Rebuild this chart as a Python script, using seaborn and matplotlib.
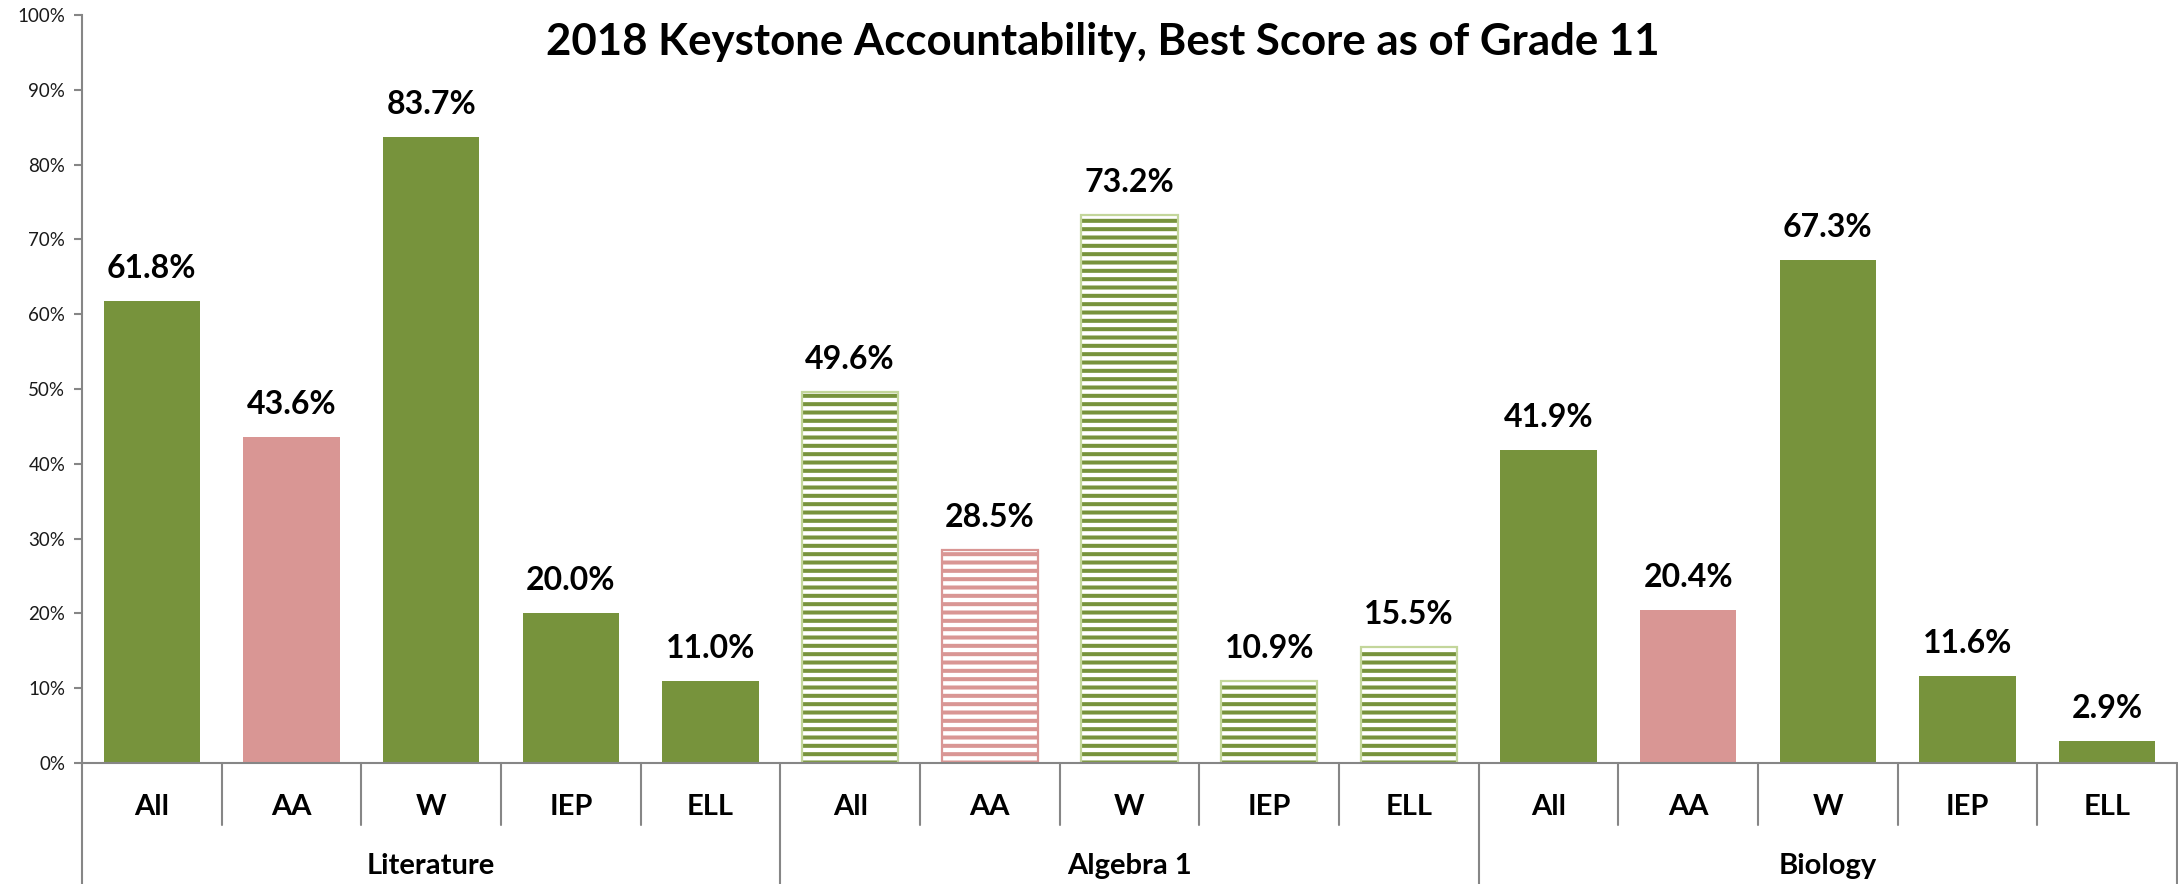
import matplotlib
matplotlib.use("Agg")
import matplotlib.pyplot as plt
import matplotlib.transforms as mtransforms
from matplotlib.patches import Rectangle
import seaborn as sns
import pandas as pd

# ---- data ----
groups = ["Literature", "Algebra 1", "Biology"]
subgroups = ["All", "AA", "W", "IEP", "ELL"]
literature = [61.8, 43.6, 83.7, 20.0, 11.0]
algebra = [49.6, 28.5, 73.2, 10.9, 15.5]
biology = [41.9, 20.4, 67.3, 11.6, 2.9]
title = "2018 Keystone Accountability, Best Score as of Grade 11"
yticks = [0, 10, 20, 30, 40, 50, 60, 70, 80, 90, 100]

GREEN = "#77933c"
PINK = "#d99694"
LIGHT_GREEN = "#c3d69b"

sns.set_theme(style="white")
plt.rcParams["font.family"] = ["Lato", "DejaVu Sans"]
plt.rcParams["hatch.linewidth"] = 2.9

rows = []
for g, vals in zip(groups, [literature, algebra, biology]):
    for s, v in zip(subgroups, vals):
        rows.append({"key": f"{g}|{s}", "group": g, "sub": s, "value": v})
df = pd.DataFrame(rows)
order = list(df["key"])
palette = {k: (PINK if k.endswith("|AA") else GREEN) for k in order}

fig = plt.figure(figsize=(21.78, 8.84), dpi=100)
ax = fig.add_axes([82 / 2178, 1 - 763 / 884, (2177 - 82) / 2178, (763 - 15) / 884])

sns.barplot(data=df, x="key", y="value", hue="key", palette=palette, order=order,
            hue_order=order, legend=False, width=0.69, saturation=1, ax=ax, linewidth=0)

ax.set_xlim(-0.5, len(order) - 0.5)
ax.set_ylim(0, 100)

# hatched bars for Algebra 1
bars = sorted(ax.patches, key=lambda p: p.get_x())
for i, p in enumerate(bars):
    key = order[i]
    col = palette[key]
    if key.startswith("Algebra 1"):
        p.set_facecolor("white")
        p.set_edgecolor(col)
        p.set_hatch("--")
        p.set_linewidth(0)
        edge = LIGHT_GREEN if col == GREEN else col
        r = Rectangle((p.get_x(), p.get_y()), p.get_width(), p.get_height(), fill=False,
                      edgecolor=edge, linewidth=1.6, zorder=p.get_zorder() + 0.1)
        ax.add_patch(r)
    # value label
    ax.annotate(f"{df['value'].iloc[i]:.1f}%", (p.get_x() + p.get_width() / 2, p.get_height()),
                xytext=(0, 13), textcoords="offset points", ha="center", va="bottom",
                fontsize=23, fontweight="bold", color="black")

# axes styling
for s in ["top", "right", "bottom"]:
    ax.spines[s].set_visible(False)
AXC = "#868686"
ax.spines["left"].set_color(AXC)
ax.spines["left"].set_linewidth(1.5)
ax.set_yticks(yticks)
ax.set_yticklabels([f"{t}%" for t in yticks], fontsize=13.5, color="#1a1a1a")
ax.tick_params(axis="y", left=True, length=6, width=1.5, color=AXC, pad=6)
ax.set_xticks([])
ax.set_xlabel("")
ax.set_ylabel("")
ax.grid(False)

trans = mtransforms.blended_transform_factory(ax.transData, fig.transFigure)
y0 = 1 - 763 / 884
y_cat = 1 - 825 / 884
# baseline
ax.plot([-0.5, len(order) - 0.5], [y0, y0], transform=trans, color=AXC, lw=1.5, clip_on=False)
# left spine extension
ax.plot([-0.5, -0.5], [0, y0], transform=trans, color=AXC, lw=1.5, clip_on=False)
for i in range(1, len(order) + 1):
    xb = i - 0.5
    if i % 5 == 0:
        ax.plot([xb, xb], [0, y0], transform=trans, color=AXC, lw=1.5, clip_on=False)
    else:
        ax.plot([xb, xb], [y_cat, y0], transform=trans, color=AXC, lw=1.5, clip_on=False)

for i, row in df.iterrows():
    ax.text(i, 1 - 807 / 884, row["sub"], transform=trans, ha="center", va="center",
            fontsize=21, fontweight="bold", color="black")
for gi, g in enumerate(groups):
    ax.text(gi * 5 + 2, 1 - 866 / 884, g, transform=trans, ha="center", va="center",
            fontsize=21, fontweight="bold", color="black")

fig.text(1103 / 2178, 1 - 42 / 884, title, ha="center", va="center",
         fontsize=31.5, fontweight="bold", color="black")

fig.savefig("out.png", dpi=100)
